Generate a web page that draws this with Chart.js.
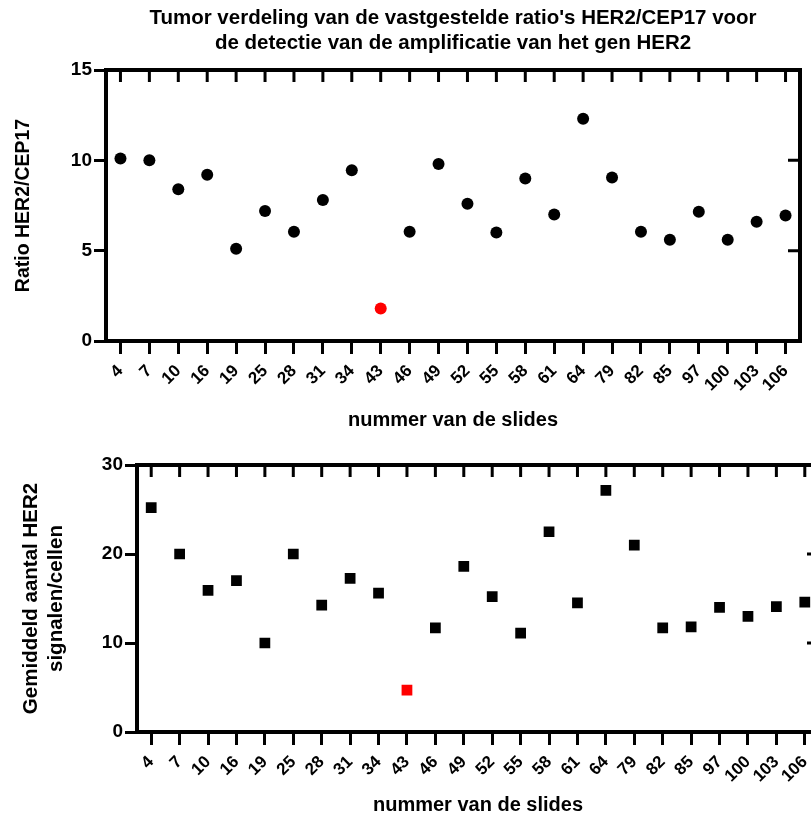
<!DOCTYPE html>
<html>
<head>
<meta charset="utf-8">
<script src="https://cdn.jsdelivr.net/npm/chart.js@4.4.1/dist/chart.umd.min.js"></script>
<style>
  html, body { margin: 0; padding: 0; background: #fff; overflow: hidden; }
  canvas { display: block; position: absolute; left: 0; }
  #ratio { top: 0; }
  #signals { top: 440px; }
</style>
</head>
<body>
<canvas id="ratio" width="811" height="440"></canvas>
<canvas id="signals" width="830" height="381"></canvas>
<script>
// slide numbers on the x axis
var slides = ['4', '7', '10', '16', '19', '25', '28', '31', '34', '43', '46', '49',
              '52', '55', '58', '61', '64', '79', '82', '85', '97', '100', '103', '106'];
// ratio HER2/CEP17 per slide
var ratioValues = [10.1, 10.0, 8.4, 9.2, 5.1, 7.2, 6.05, 7.8, 9.45, 1.8, 6.05, 9.8,
                   7.6, 6.0, 9.0, 7.0, 12.3, 9.05, 6.05, 5.6, 7.15, 5.6, 6.6, 6.95];
// mean HER2 signals per cell
var signalValues = [25.2, 20.0, 15.9, 17.0, 10.0, 20.0, 14.25, 17.25, 15.6, 4.7, 11.7, 18.6,
                    15.2, 11.1, 22.5, 14.5, 27.15, 21.0, 11.7, 11.8, 14.0, 13.0, 14.1, 14.6];
var ratioTicks = [0, 5, 10, 15];
var signalTicks = [0, 10, 20, 30];
var highlightSlide = '43';   // the one that is drawn red

var FONT = "'Liberation Sans', Arial, sans-serif";

// GraphPad style: box closed on top and right, ticks pointing inward
var mirrorAxes = {
    id: 'mirrorAxes',
    afterDraw: function(chart) {
        var ctx = chart.ctx;
        var a = chart.chartArea;
        var x = chart.scales.x, y = chart.scales.y;
        ctx.save();
        ctx.strokeStyle = '#000';
        ctx.lineWidth = 4;
        ctx.beginPath();
        ctx.moveTo(a.left - 2, a.top);
        ctx.lineTo(a.right + 2, a.top);
        ctx.moveTo(a.right, a.top);
        ctx.lineTo(a.right, a.bottom + 2);
        ctx.stroke();
        ctx.lineWidth = 3;
        ctx.beginPath();
        x.ticks.forEach(function(t, i) {
            var px = x.getPixelForTick(i);
            ctx.moveTo(px, a.top);
            ctx.lineTo(px, a.top + 12);
        });
        y.ticks.forEach(function(t, i) {
            var py = y.getPixelForTick(i);
            ctx.moveTo(a.right, py);
            ctx.lineTo(a.right - 12, py);
        });
        ctx.stroke();
        ctx.restore();
    }
};

// title centered on the plot area instead of the canvas
var areaTitle = {
    id: 'areaTitle',
    afterDraw: function(chart, args, opts) {
        if (!opts.lines) return;
        var ctx = chart.ctx;
        var a = chart.chartArea;
        var cx = (a.left + a.right) / 2;
        ctx.save();
        ctx.fillStyle = '#000';
        ctx.font = 'bold 20.5px ' + FONT;
        ctx.textAlign = 'center';
        ctx.textBaseline = 'middle';
        opts.lines.forEach(function(line, i) {
            ctx.fillText(line, cx, opts.y + i * 25);
        });
        ctx.restore();
    }
};

function make_chart(id, values, ticks, opts) {
    var ctx = document.getElementById(id).getContext('2d');
    return new Chart(ctx, {
        type: 'line',
        data: {
            labels: slides,
            datasets: [{
                data: values,
                showLine: false,
                pointStyle: opts.pointStyle,
                pointRadius: opts.pointRadius,
                pointHoverRadius: opts.pointRadius,
                pointBorderWidth: 0,
                pointBackgroundColor: function(c) {
                    return slides[c.dataIndex] === highlightSlide ? '#ff0000' : '#000000';
                },
                pointBorderColor: 'rgba(0,0,0,0)'
            }]
        },
        options: {
            responsive: false,
            animation: false,
            layout: {
                padding: { top: opts.padTop, right: opts.padRight, left: 0, bottom: 0 }
            },
            plugins: {
                legend: { display: false },
                tooltip: { enabled: false },
                title: { display: false },
                areaTitle: { lines: opts.title, y: 18 }
            },
            scales: {
                x: {
                    offset: true,
                    grid: {
                        drawOnChartArea: false,
                        drawTicks: true,
                        tickLength: 13,
                        lineWidth: 3,
                        color: '#000',
                        offset: false
                    },
                    border: { display: true, color: '#000', width: 4 },
                    ticks: {
                        color: '#000',
                        font: { family: FONT, size: 17, weight: 'bold' },
                        minRotation: 45,
                        maxRotation: 45,
                        autoSkip: false,
                        padding: 7
                    },
                    title: {
                        display: true,
                        text: 'nummer van de slides',
                        color: '#000',
                        font: { family: FONT, size: 20, weight: 'bold' },
                        padding: { top: 0, bottom: opts.xTitlePad }
                    },
                    afterFit: function(s) { s.height = opts.xHeight; }
                },
                y: {
                    min: ticks[0],
                    max: ticks[ticks.length - 1],
                    afterBuildTicks: function(s) {
                        s.ticks = ticks.map(function(v) { return { value: v }; });
                    },
                    grid: {
                        drawOnChartArea: false,
                        drawTicks: true,
                        tickLength: 12,
                        lineWidth: 3,
                        color: '#000'
                    },
                    border: { display: true, color: '#000', width: 4 },
                    ticks: {
                        color: '#000',
                        font: { family: FONT, size: 19, weight: 'bold' },
                        padding: 2
                    },
                    title: {
                        display: true,
                        text: opts.yTitle,
                        color: '#000',
                        font: { family: FONT, size: opts.yTitleSize, weight: 'bold', lineHeight: 1.2 },
                        padding: { top: opts.yTitlePad, bottom: 0 }
                    },
                    afterFit: function(s) { s.width = opts.yWidth; }
                }
            }
        },
        plugins: [mirrorAxes, areaTitle]
    });
}

document.addEventListener('DOMContentLoaded', function() {
    make_chart('ratio', ratioValues, ratioTicks, {
        pointStyle: 'circle',
        pointRadius: 6,
        padTop: 70,
        padRight: 11,
        xHeight: 99,
        xTitlePad: 8,
        yWidth: 106,
        yTitle: 'Ratio HER2/CEP17',
        yTitleSize: 19.5,
        yTitlePad: 12,
        title: ["Tumor verdeling van de vastgestelde ratio's HER2/CEP17 voor",
                'de detectie van de amplificatie van het gen HER2']
    });
    make_chart('signals', signalValues, signalTicks, {
        pointStyle: 'rect',
        pointRadius: 7.6,
        padTop: 25,
        padRight: 11,
        xHeight: 89,
        xTitlePad: 4,
        yWidth: 137,
        yTitle: ['Gemiddeld aantal HER2', 'signalen/cellen'],
        yTitleSize: 20.5,
        yTitlePad: 19,
        title: null
    });
});
</script>
</body>
</html>
